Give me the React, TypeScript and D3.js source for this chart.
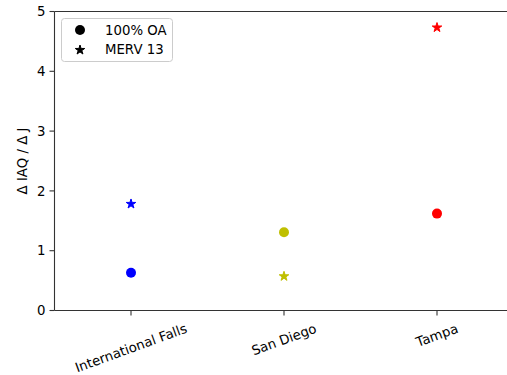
import React, { useEffect, useRef } from "react";
import * as d3 from "d3";

const categories = ["International Falls", "San Diego", "Tampa"];
const oaValues = [0.63, 1.31, 1.62];
const mervValues = [1.79, 0.58, 4.74];
const pointColors = ["#0000ff", "#bfbf00", "#ff0000"];
const yTicks = [0, 1, 2, 3, 4, 5];
const legendLabels = ["100% OA", "MERV 13"];

const W = 507;
const H = 375;
const FONT = "'DejaVu Sans', sans-serif";
const FS = 13.3;

function starPath(r: number): string {
  const pts: [number, number][] = [];
  const ri = r * 0.381966;
  for (let i = 0; i < 10; i++) {
    const a = (Math.PI / 5) * i - Math.PI / 2;
    const rr = i % 2 === 0 ? r : ri;
    pts.push([Math.cos(a) * rr, Math.sin(a) * rr]);
  }
  return d3.line()(pts)! + "Z";
}

export default function App() {
  const ref = useRef<SVGSVGElement>(null);

  useEffect(() => {
    const svg = d3.select(ref.current!);
    svg.selectAll("*").remove();

    const left = 54.5;
    const top = 11.5;
    const bottom = 310.5;
    const step = 153;
    const x = d3.scaleLinear().domain([-0.5, 2.5]).range([left, left + 3 * step]);
    const y = d3.scaleLinear().domain([0, 5]).range([bottom, top]);
    const axisColor = "#333";

    const g = svg.append("g");
    g.append("line").attr("x1", left).attr("x2", left).attr("y1", top).attr("y2", bottom)
      .attr("stroke", axisColor).attr("stroke-width", 1.1);
    g.append("line").attr("x1", left).attr("x2", x(2.5)).attr("y1", bottom).attr("y2", bottom)
      .attr("stroke", axisColor).attr("stroke-width", 1.1);
    g.append("line").attr("x1", left).attr("x2", x(2.5)).attr("y1", top).attr("y2", top)
      .attr("stroke", axisColor).attr("stroke-width", 1.1);
    g.append("line").attr("x1", x(2.5)).attr("x2", x(2.5)).attr("y1", top).attr("y2", bottom)
      .attr("stroke", axisColor).attr("stroke-width", 1.1);

    yTicks.forEach((t) => {
      g.append("line").attr("x1", left - 5).attr("x2", left).attr("y1", y(t)).attr("y2", y(t))
        .attr("stroke", axisColor).attr("stroke-width", 1.1);
      g.append("text").attr("x", left - 9).attr("y", y(t)).attr("dy", "0.35em")
        .attr("text-anchor", "end").attr("font-family", FONT).attr("font-size", FS)
        .attr("fill", "#000").text(String(t));
    });

    const s = Math.sin((20 * Math.PI) / 180);
    const c = Math.cos((20 * Math.PI) / 180);
    categories.forEach((cat, i) => {
      const cx = x(i);
      g.append("line").attr("x1", cx).attr("x2", cx).attr("y1", bottom).attr("y2", bottom + 5)
        .attr("stroke", axisColor).attr("stroke-width", 1.1);
      const t = g.append("text").attr("font-family", FONT).attr("font-size", FS)
        .attr("text-anchor", "middle").attr("fill", "#000").text(cat);
      const w = (t.node() as SVGTextElement).getComputedTextLength();
      const h = FS * 1.17;
      const bh = w * s + h * c;
      const cy = bottom + 10 + bh / 2;
      t.attr("transform", `translate(${cx},${cy}) rotate(-20)`).attr("dy", "0.35em");
    });

    g.append("text").attr("transform", `translate(22,${(top + bottom) / 2}) rotate(-90)`)
      .attr("text-anchor", "middle").attr("dy", "0.35em").attr("font-family", FONT)
      .attr("font-size", FS).attr("fill", "#000").text("Δ IAQ / Δ J");

    const star = starPath(5);
    categories.forEach((_, i) => {
      g.append("circle").attr("cx", x(i)).attr("cy", y(oaValues[i])).attr("r", 5)
        .attr("fill", pointColors[i]);
      g.append("path").attr("d", star)
        .attr("transform", `translate(${x(i)},${y(mervValues[i]) + 0.5})`)
        .attr("fill", pointColors[i]).attr("stroke", pointColors[i])
        .attr("stroke-width", 1).attr("stroke-linejoin", "round");
    });

    const lg = svg.append("g");
    lg.append("rect").attr("x", 61.5).attr("y", 18.5).attr("width", 111).attr("height", 43)
      .attr("rx", 3).attr("fill", "#fff").attr("fill-opacity", 0.8)
      .attr("stroke", "#cccccc").attr("stroke-width", 1);
    lg.append("circle").attr("cx", 80).attr("cy", 30).attr("r", 5).attr("fill", "#000");
    lg.append("path").attr("d", star).attr("transform", "translate(80,50)").attr("fill", "#000")
      .attr("stroke", "#000").attr("stroke-width", 1).attr("stroke-linejoin", "round");
    legendLabels.forEach((lab, i) => {
      lg.append("text").attr("x", 105).attr("y", 30 + i * 19.5).attr("dy", "0.35em")
        .attr("font-family", FONT).attr("font-size", FS).attr("fill", "#000").text(lab);
    });
  }, []);

  return (
    <svg
      ref={ref}
      width={W}
      height={H}
      style={{ position: "absolute", left: 0, top: 0, display: "block", background: "#fff" }}
    />
  );
}
